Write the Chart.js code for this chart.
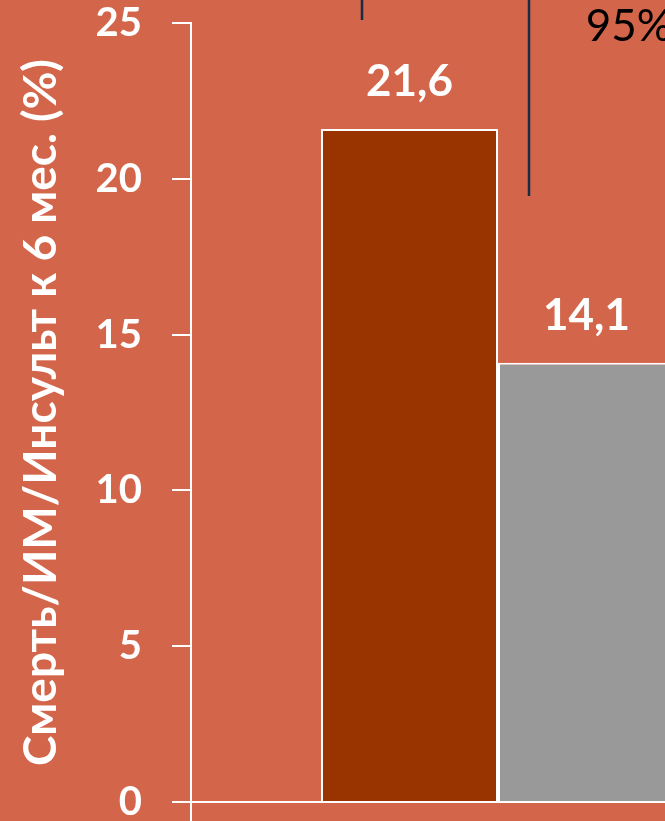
<!DOCTYPE html>
<html>
<head>
<meta charset="utf-8">
<script src="https://cdn.jsdelivr.net/npm/chart.js@4"></script>
<style>
  html, body { margin: 0; padding: 0; background: #D3654A; }
  #wrap { width: 665px; height: 821px; overflow: hidden; position: relative; }
  #chart { display: block; }
</style>
</head>
<body>
<div id="wrap"><canvas id="chart" width="805" height="821"></canvas></div>
<script>
// data
var categories = [''];
var seriesNames = ['Группа 1', 'Группа 2'];
var seriesValues = [21.6, 14.1];
var seriesColors = ['#993300', '#999999'];
var yTicks = [0, 5, 10, 15, 20, 25];
var yTitle = 'Смерть/ИМ/Инсульт к 6 мес. (%)';
var noteText = '95%';

var bg = '#D3654A';
var fontFamily = 'Lato, "Open Sans", sans-serif';

// value labels above the bars, with a comma as decimal mark
var barLabels = {
    id: 'barLabels',
    afterDatasetsDraw: function(chart) {
        var ctx = chart.ctx;
        ctx.save();
        ctx.fillStyle = '#ffffff';
        ctx.font = 'bold 44px ' + fontFamily;
        ctx.textAlign = 'center';
        ctx.textBaseline = 'alphabetic';
        chart.data.datasets.forEach(function(ds, i) {
            var bar = chart.getDatasetMeta(i).data[0];
            var txt = ds.data[0].toFixed(1).replace('.', ',');
            ctx.fillText(txt, bar.x, bar.y - 33);
        });
        ctx.restore();
    }
};

// leftovers of the drawing above the chart (lines and the "95%" note)
var topNote = {
    id: 'topNote',
    afterDraw: function(chart) {
        var ctx = chart.ctx;
        var area = chart.chartArea;
        var y = chart.scales.y;
        var w = area.right - area.left;
        ctx.save();
        ctx.strokeStyle = '#1c2a44';
        ctx.lineWidth = 2.5;
        ctx.beginPath();
        ctx.moveTo(area.left + w * 0.2785, 0);
        ctx.lineTo(area.left + w * 0.2785, y.getPixelForValue(25.1));
        ctx.moveTo(area.left + w * 0.5505, 0);
        ctx.lineTo(area.left + w * 0.5505, y.getPixelForValue(19.45));
        ctx.stroke();
        ctx.fillStyle = '#000000';
        ctx.font = '44px ' + fontFamily;
        ctx.textAlign = 'left';
        ctx.textBaseline = 'alphabetic';
        ctx.fillText(noteText, area.left + w * 0.643, 41);
        ctx.restore();
    }
};

var bgPlugin = {
    id: 'bgPlugin',
    beforeDraw: function(chart) {
        var ctx = chart.ctx;
        ctx.save();
        ctx.fillStyle = bg;
        ctx.fillRect(0, 0, chart.width, chart.height);
        ctx.restore();
    }
};

var ctx = document.getElementById('chart');
var myChart = new Chart(ctx, {
    type: 'bar',
    data: {
        labels: categories,
        datasets: seriesNames.map(function(name, i) {
            return {
                label: name,
                data: [seriesValues[i]],
                backgroundColor: seriesColors[i],
                borderColor: '#ffffff',
                borderWidth: 2,
                borderSkipped: 'bottom',
                categoryPercentage: 0.5765,
                barPercentage: 1
            };
        })
    },
    options: {
        responsive: false,
        animation: false,
        layout: {
            padding: { top: 23, right: 0, bottom: 0, left: 0 }
        },
        plugins: {
            legend: { display: false },
            tooltip: { enabled: false }
        },
        scales: {
            x: {
                ticks: { display: false },
                grid: {
                    drawOnChartArea: false,
                    drawTicks: true,
                    tickLength: 19,
                    color: '#ffffff',
                    lineWidth: 2
                },
                border: { display: true, color: '#ffffff', width: 2 }
            },
            y: {
                min: 0,
                max: 25,
                afterBuildTicks: function(scale) {
                    scale.ticks = yTicks.map(function(v) { return { value: v }; });
                },
                afterFit: function(scale) {
                    scale.width = 191;
                    scale.paddingTop = 0;
                    scale.paddingBottom = 0;
                },
                ticks: {
                    color: '#ffffff',
                    padding: 30,
                    font: { family: fontFamily, size: 40, weight: 'bold' }
                },
                grid: {
                    drawOnChartArea: false,
                    drawTicks: true,
                    tickLength: 19,
                    color: '#ffffff',
                    lineWidth: 2
                },
                border: { display: true, color: '#ffffff', width: 2 },
                title: {
                    display: true,
                    text: yTitle,
                    color: '#ffffff',
                    padding: { top: 14, bottom: 0 },
                    font: { family: fontFamily, size: 46, weight: 'bold', lineHeight: 1.2 }
                }
            }
        }
    },
    plugins: [bgPlugin, barLabels, topNote]
});
</script>
</body>
</html>
